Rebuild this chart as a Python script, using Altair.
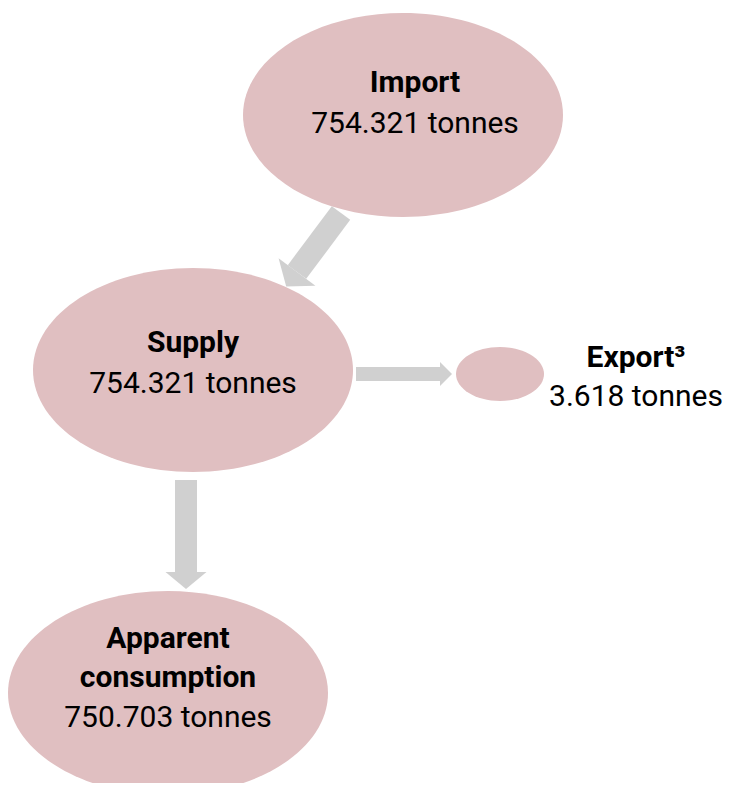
import altair as alt
import pandas as pd

# ---------------- data ----------------
nodes = ["Import", "Supply", "Export³", "Apparent consumption"]
tonnes = [754321, 754321, 3618, 750703]
title_lines = [["Import"], ["Supply"], ["Export³"], ["Apparent", "consumption"]]
flow_from = ["Import", "Supply", "Supply"]
flow_to = ["Supply", "Export³", "Apparent consumption"]

# ---------------- layout (page pixels) ----------------
node_cx = [403, 193, 500, 168]
node_cy = [115, 370, 374, 693]
node_rx = [160, 160, 44, 160]
node_ry = [102, 102, 27, 102]
label_x = [415, 193, 636, 168]
title_y = [92, 352, 367, 648]
value_y = [133, 393, 406, 727]
line_gap = 39

# arrows: shaft start, shaft end (= head base), shaft width, head half-width, head depth
arrow_x1 = [341, 356, 186]
arrow_y1 = [213, 374, 480]
arrow_x2 = [297, 440, 186]
arrow_y2 = [272, 374, 572]
arrow_w = [23, 14, 22]
arrow_hw = [23, 12, 20.5]
arrow_hd = [18, 12, 17]
arrow_angle = [126.8, 0, 90]

PINK = "#e0bfc1"
GREY = "#d0d0d0"
FONT = "Roboto"

W, H = 716, 775
OFF = 8


def fmt(v):
    return f"{v:,}".replace(",", ".") + " tonnes"


def ellipse_path(r):
    k = 0.5523
    return (f"M -1 0 C -1 {-k*r:.4f} {-k:.4f} {-r:.4f} 0 {-r:.4f} "
            f"C {k:.4f} {-r:.4f} 1 {-k*r:.4f} 1 0 "
            f"C 1 {k*r:.4f} {k:.4f} {r:.4f} 0 {r:.4f} "
            f"C {-k:.4f} {r:.4f} -1 {k*r:.4f} -1 0 Z")


node_df = pd.DataFrame({
    "node": nodes,
    "tonnes": tonnes,
    "x": node_cx,
    "y": node_cy,
    "size": [(2 * rx) ** 2 for rx in node_rx],
    "shape": [ellipse_path(ry / rx) for rx, ry in zip(node_rx, node_ry)],
})

rows = []
for i, n in enumerate(nodes):
    lines = title_lines[i]
    for j, ln in enumerate(lines):
        rows.append({"text": ln, "x": label_x[i],
                     "y": title_y[i] + j * line_gap,
                     "bold": True})
    rows.append({"text": fmt(tonnes[i]), "x": label_x[i], "y": value_y[i], "bold": False})
label_df = pd.DataFrame(rows)

arrow_df = pd.DataFrame({
    "from": flow_from, "to": flow_to,
    "x": arrow_x1, "y": arrow_y1, "x2": arrow_x2, "y2": arrow_y2,
    "w": arrow_w, "angle": arrow_angle,
    "size": [(2 * hw) ** 2 for hw in arrow_hw],
    "shape": [f"M 0 -1 L {hd/hw:.4f} 0 L 0 1 Z" for hw, hd in zip(arrow_hw, arrow_hd)],
})

xs = alt.Scale(domain=[OFF, OFF + W], nice=False, zero=False)
ys = alt.Scale(domain=[OFF, OFF + H], nice=False, zero=False, reverse=True)
X = lambda f="x": alt.X(f"{f}:Q", scale=xs, axis=None)
Y = lambda f="y": alt.Y(f"{f}:Q", scale=ys, axis=None)

ellipses = alt.Chart(node_df).mark_point(filled=True, opacity=1, color=PINK, strokeWidth=0).encode(
    x=X(), y=Y(),
    size=alt.Size("size:Q", scale=None, legend=None),
    shape=alt.Shape("shape:N", scale=None, legend=None),
)

shafts = alt.Chart(arrow_df).mark_rule(color=GREY, strokeCap="butt").encode(
    x=X(), y=Y(), x2="x2:Q", y2="y2:Q",
    strokeWidth=alt.StrokeWidth("w:Q", scale=None, legend=None),
)

heads = alt.Chart(arrow_df).mark_point(filled=True, opacity=1, color=GREY, strokeWidth=0).encode(
    x=X("x2"), y=Y("y2"),
    size=alt.Size("size:Q", scale=None, legend=None),
    shape=alt.Shape("shape:N", scale=None, legend=None),
    angle=alt.Angle("angle:Q", scale=None),
)

bold_text = alt.Chart(label_df[label_df["bold"]]).mark_text(
    font=FONT, fontSize=30, fontWeight="bold", color="#000000",
    align="center", baseline="alphabetic").encode(x=X(), y=Y(), text="text:N")

value_text = alt.Chart(label_df[~label_df["bold"]]).mark_text(
    font=FONT, fontSize=30, fontWeight="normal", color="#000000",
    align="center", baseline="alphabetic").encode(x=X(), y=Y(), text="text:N")

chart = alt.layer(shafts, heads, ellipses, bold_text, value_text).properties(
    width=W, height=H, padding=0, autosize=alt.AutoSizeParams(type="none"),
).configure_view(stroke=None)

chart.save("out.html", embed_options={"renderer": "svg", "actions": False})
